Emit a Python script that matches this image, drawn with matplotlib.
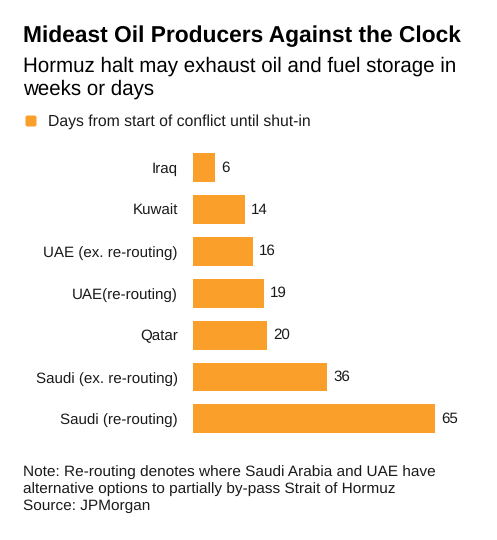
import matplotlib
matplotlib.use("Agg")
import matplotlib.pyplot as plt
from matplotlib.patches import FancyBboxPatch

categories = ["Iraq", "Kuwait", "UAE (ex. re-routing)", "UAE(re-routing)", "Qatar",
              "Saudi (ex. re-routing)", "Saudi (re-routing)"]
values = [6, 14, 16, 19, 20, 36, 65]

title = "Mideast Oil Producers Against the Clock"
subtitle = "Hormuz halt may exhaust oil and fuel storage in\nweeks or days"
legend_label = "Days from start of conflict until shut-in"
note = ("Note: Re-routing denotes where Saudi Arabia and UAE have\n"
        "alternative options to partially by-pass Strait of Hormuz\n"
        "Source: JPMorgan")

ORANGE = "#FA9F2A"
W, H = 497, 540
plt.rcParams['font.family'] = ['Liberation Sans', 'DejaVu Sans']
plt.rcParams['text.hinting'] = 'no_hinting'

fig = plt.figure(figsize=(W / 100, H / 100), dpi=100)
fig.patch.set_facecolor("white")

def fx(px):
    return px / W

def fy(py):
    return 1 - py / H

# axes: x from 193 to 435 px covers 0..65; y rows centered 167.8 .. 418.8
top, bottom = 146.9, 439.7
ax = fig.add_axes([fx(193), fy(bottom), fx(435) - fx(193), (bottom - top) / H])
ypos = list(range(len(categories)))
ax.barh(ypos, values, height=0.69, color=ORANGE)
ax.set_xlim(0, max(values))
ax.set_ylim(len(categories) - 0.5, -0.5)
ax.set_yticks(ypos)
ax.set_yticklabels(categories, fontsize=10.9, color="#1a1a1a")
ax.tick_params(axis='y', length=0, pad=11)
ax.set_xticks([])
for s in ax.spines.values():
    s.set_visible(False)
for y, v in zip(ypos, values):
    ax.annotate(str(v), (v, y), xytext=(6, 0), textcoords='offset pixels',
                va='center', ha='left', fontsize=10.9, color="#1a1a1a",
                annotation_clip=False)

fig.text(fx(23), fy(41.7), title, fontsize=16.35, fontweight='bold',
         va='baseline', ha='left', color="black")
fig.text(fx(23), fy(71.7), subtitle.split("\n")[0], fontsize=14.8,
         va='baseline', ha='left', color="black")
fig.text(fx(23), fy(95.0), subtitle.split("\n")[1], fontsize=14.8,
         va='baseline', ha='left', color="black")

sq = FancyBboxPatch((fx(25.5), fy(126.5)), fx(11), (11) / H,
                    boxstyle="round,pad=0,rounding_size=0.004",
                    transform=fig.transFigure, facecolor=ORANGE, edgecolor='none')
fig.patches.append(sq)
fig.text(fx(47.7), fy(125.3), legend_label, fontsize=11.3,
         va='baseline', ha='left', color="#1a1a1a")

for i, line in enumerate(note.split("\n")):
    fig.text(fx(23), fy(476 + 17 * i), line, fontsize=11.1,
             va='baseline', ha='left', color="#1a1a1a")

fig.savefig("out.png", dpi=100, facecolor="white")
